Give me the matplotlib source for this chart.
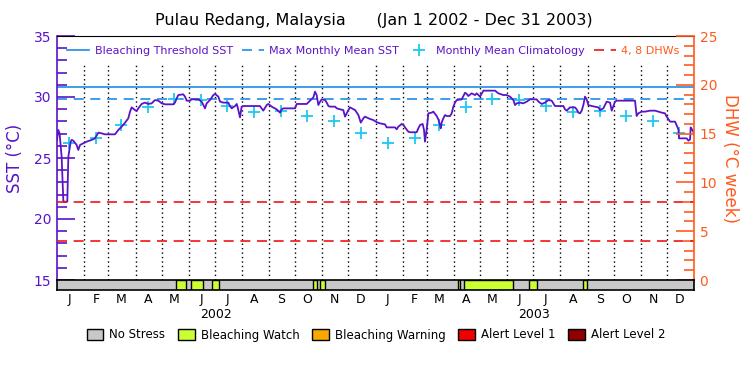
import numpy as np
import pandas as pd
import matplotlib
matplotlib.use('Agg')
import matplotlib.pyplot as plt
from matplotlib.lines import Line2D
from matplotlib.patches import Patch
from matplotlib.ticker import MultipleLocator

# ---- data ----
start = pd.Timestamp('2002-01-01')
end = pd.Timestamp('2004-01-01')

# SST trace: days since Jan 1 2002, deg C
sst_day = [0, 1.5, 3, 5.3, 7.3, 11.8, 13, 15.7, 16.8, 18.7, 22.5, 24.4, 26.4, 30.2, 34,
           39.7, 43.5, 47.4, 51.2, 55, 66.5, 70.3, 74.1, 78, 81.7, 83.7, 85.6, 89.4, 91.3,
           93.2, 97, 100.8, 104.7, 108.5, 112.3, 116.1, 120, 123.8, 133.3, 135.2, 137.2,
           139, 144.7, 146.7, 148.6, 152.4, 154.3, 162, 165.8, 169.6, 171.5, 175.3, 179.2,
           181.1, 184.9, 186.8, 190.6, 196.3, 198.2, 200.2, 204, 206, 207.8, 209.7, 211.6,
           213.5, 232.6, 234.5, 236.4, 240.3, 242.2, 246, 251.7, 255.6, 257.5, 259.4, 272.8,
           274.7, 286.2, 290, 293.8, 295.7, 297.6, 299.5, 301.5, 303.4, 307.2, 309.1, 311,
           312.9, 318.7, 320.6, 324.4, 328.1, 330.1, 332, 333.9, 335.8, 341.6, 345.4, 348.1,
           351.1, 353, 358.7, 362.5, 366.3, 370.1, 375.9, 377.8, 387.4, 389.3, 391.2, 395,
           397, 398.8, 402.6, 404.6, 412.2, 414.1, 416, 419, 420.6, 421.7, 423.6, 425.6,
           429.4, 431.3, 435.1, 437, 438.9, 439.7, 440.8, 442.7, 444.7, 446.6, 450.4, 452.3,
           454.2, 456.1, 458, 463.8, 465.7, 467.6, 469.5, 471.4, 475.2, 479.1, 481, 484.8,
           488.6, 502, 505.8, 511.5, 515.3, 519.2, 523, 524.9, 526.8, 530.6, 534.4, 538.3,
           542.1, 549.7, 551.7, 555.5, 559.3, 563.1, 566.9, 570.7, 580.3, 582.2, 584.1,
           587.9, 593.6, 595.5, 597.5, 599.4, 601.3, 603.2, 605.1, 607, 608.9, 612.8, 620.4,
           622.3, 626.1, 628, 629.9, 633.8, 635.7, 637.6, 639.5, 641.4, 662.4, 664.3, 666.2,
           670.1, 673.9, 679.6, 685.4, 689.2, 693, 696.8, 698.7, 702.6, 708.3, 712.1, 712.9,
           721.7, 723.6, 725.5, 726.2, 729.3, 730]
sst_val = [26.48, 27.30, 27.0, 25.11, 21.42, 21.42, 25.11, 26.34, 26.48, 26.42, 26.07, 25.66,
           26.07, 26.20, 26.34, 26.48, 26.61, 27.08, 27.02, 26.94, 26.94, 27.30, 27.57, 27.90,
           28.25, 28.80, 29.15, 28.93, 28.85, 29.07, 29.43, 29.54, 29.43, 29.48, 29.75, 29.70,
           29.48, 29.40, 29.40, 29.54, 29.89, 30.16, 30.22, 30.03, 29.70, 29.70, 29.81, 29.81,
           29.62, 29.07, 29.48, 29.75, 30.16, 30.25, 30.03, 29.62, 29.54, 29.54, 29.26, 29.07,
           29.26, 29.43, 28.93, 28.33, 29.21, 29.26, 29.26, 29.07, 28.88, 29.34, 29.43, 29.21,
           28.99, 28.72, 28.99, 29.07, 29.07, 29.43, 29.43, 29.70, 29.97, 30.44, 30.16, 29.34,
           29.62, 29.81, 29.75, 29.54, 29.26, 29.21, 29.21, 29.07, 28.99, 28.93, 28.39, 28.66,
           28.93, 29.15, 28.93, 28.52, 27.90, 28.25, 28.39, 28.20, 28.11, 27.94, 27.84, 27.76,
           27.51, 27.51, 27.35, 27.57, 27.79, 27.70, 27.51, 27.16, 27.11, 27.11, 27.43, 27.70,
           27.79, 27.30, 26.34, 27.30, 28.66, 28.72, 28.80, 28.44, 28.17, 27.70, 27.43, 27.90,
           28.25, 28.52, 28.44, 28.44, 28.66, 29.21, 29.54, 29.75, 29.81, 30.08, 30.35, 30.25,
           30.08, 30.30, 30.16, 30.30, 30.03, 30.52, 30.52, 30.30, 30.16, 30.16, 30.03, 29.75,
           29.34, 29.48, 29.54, 29.48, 29.62, 29.81, 29.81, 29.62, 29.43, 29.54, 29.75, 29.70,
           29.26, 29.26, 28.99, 28.88, 29.15, 29.15, 28.99, 28.72, 28.66, 28.88, 29.34, 30.03,
           29.81, 29.34, 29.26, 29.15, 28.93, 29.07, 29.34, 29.62, 29.54, 28.88, 29.26, 29.62,
           29.70, 29.70, 28.44, 28.66, 28.80, 28.80, 28.88, 28.88, 28.80, 28.72, 28.66, 28.39,
           27.98, 27.98, 27.35, 26.61, 26.61, 26.42, 26.53, 27.51, 27.16, 26.89]

month_letters = ['J', 'F', 'M', 'A', 'M', 'J', 'J', 'A', 'S', 'O', 'N', 'D']
clim_sst = [26.23, 26.65, 27.70, 29.18, 29.82, 29.75, 29.26, 28.80, 28.82, 28.44, 28.03, 27.07]
years = [2002, 2003]

bleach_threshold = 30.8
max_monthly_mean = 29.8
dhw_levels = [4, 8]

# Bleaching Watch periods (days since Jan 1 2002)
watch_start = [136.4, 153.2, 178.0, 293.7, 301.7, 459.9, 466.4, 540.6, 602.5]
watch_end = [147.8, 167.7, 186.0, 297.6, 307.5, 461.8, 522.2, 550.4, 607.0]

status_names = ['No Stress', 'Bleaching Watch', 'Bleaching Warning', 'Alert Level 1', 'Alert Level 2']
status_colors = ['#c8c8c8', '#ccff33', '#f8a800', '#f00000', '#900000']

purple = '#5a14c8'
orange = '#ff5a1e'
blue = '#1e8ce6'
cyan = '#1ec8f0'
red = '#f01414'

# ---- figure ----
fig = plt.figure(figsize=(7.5, 3.75), dpi=100)
ax = fig.add_axes([57 / 750, 1 - 280 / 375, 637 / 750, 244 / 375])
ax2 = ax.twinx()
bar = fig.add_axes([57 / 750, 1 - 290 / 375, 637 / 750, 10 / 375], sharex=ax)

sst_dates = start + pd.to_timedelta(sst_day, unit='D')
month_starts = pd.date_range('2002-02-01', '2003-12-01', freq='MS')
mid_months = pd.date_range('2002-01-01', '2003-12-01', freq='MS') + pd.Timedelta(days=14)

ax.vlines(month_starts, 15, 32.8, colors='black', linestyles=(0, (1, 2.2)), lw=1)

l_thr = ax.axhline(bleach_threshold, color=blue, lw=1.2)
l_mmm = ax.axhline(max_monthly_mean, color=blue, lw=1.2, dashes=(6, 4))
l_clim, = ax.plot(mid_months, clim_sst * len(years), ls='none', marker='+',
                  ms=9, mew=1.3, color=cyan)
ax.plot(sst_dates, sst_val, color=purple, lw=1.3)

for lvl in dhw_levels:
    l_dhw = ax2.axhline(lvl, color=red, lw=1.2, dashes=(6, 4))

ax.set_xlim(start, end)
ax.set_ylim(15, 35)
ax2.set_ylim(0, 25)

ax.yaxis.set_major_locator(MultipleLocator(5))
ax.yaxis.set_minor_locator(MultipleLocator(1))
ax.tick_params(axis='y', which='major', direction='in', length=13, width=1.2,
               color=purple, labelcolor=purple, labelsize=10, pad=4)
ax.tick_params(axis='y', which='minor', direction='in', length=7, width=1.2, color=purple)
ax.tick_params(axis='x', which='both', bottom=False, labelbottom=False)
ax2.yaxis.set_major_locator(MultipleLocator(5))
ax2.yaxis.set_minor_locator(MultipleLocator(1))
ax2.tick_params(axis='y', which='major', direction='in', length=13, width=1.2,
                color=orange, labelcolor=orange, labelsize=10, pad=4)
ax2.tick_params(axis='y', which='minor', direction='in', length=7, width=1.2, color=orange)

ax.spines['left'].set_color(purple)
ax.spines['left'].set_linewidth(1.2)
ax.spines['right'].set_visible(False)
ax.spines['bottom'].set_visible(False)
ax2.spines['right'].set_color(orange)
ax2.spines['right'].set_linewidth(1.2)
for s in ['left', 'top', 'bottom']:
    ax2.spines[s].set_visible(False)

ax.set_ylabel('SST (°C)', color=purple, fontsize=12, labelpad=7)
ax2.set_ylabel('DHW (°C week)', color=orange, fontsize=12, rotation=270, labelpad=16)

ax2.legend([l_thr, l_mmm, l_clim, l_dhw],
           ['Bleaching Threshold SST', 'Max Monthly Mean SST', 'Monthly Mean Climatology', '4, 8 DHWs'],
           ncol=4, loc='center', bbox_to_anchor=(0.4965, 0.9385), frameon=False, fontsize=8,
           handlelength=2.0, columnspacing=0.8, handletextpad=0.5,
           labelcolor=[purple, purple, purple, orange])

# status bar
bar.axvspan(start, end, color=status_colors[0], lw=0)
for s, e in zip(watch_start, watch_end):
    bar.axvspan(start + pd.Timedelta(days=s), start + pd.Timedelta(days=e),
                facecolor=status_colors[1], edgecolor='black', lw=1)
bar.set_ylim(0, 1)
bar.set_yticks([])
bar.set_xticks(mid_months)
bar.set_xticklabels(month_letters * len(years))
bar.tick_params(axis='x', length=0, pad=2, labelsize=9)
for s in bar.spines.values():
    s.set_linewidth(1.2)
for y in years:
    bar.annotate(str(y), xy=(pd.Timestamp(f'{y}-07-02'), 0), xycoords=('data', 'axes fraction'),
                 xytext=(0, -18), textcoords='offset points', ha='center', va='center', fontsize=9)

fig.text(374 / 750, 1 - 21 / 375, 'Pulau Redang, Malaysia      (Jan 1 2002 - Dec 31 2003)',
         ha='center', va='center', fontsize=11.5)

fig.legend([Patch(facecolor=c, edgecolor='black', lw=1) for c in status_colors], status_names,
           ncol=5, loc='center', bbox_to_anchor=(376 / 750, 1 - 335 / 375), frameon=False,
           fontsize=8.5, handlelength=1.4, handleheight=1.0, columnspacing=1.1, handletextpad=0.5)

fig.savefig('out.png', dpi=100)
